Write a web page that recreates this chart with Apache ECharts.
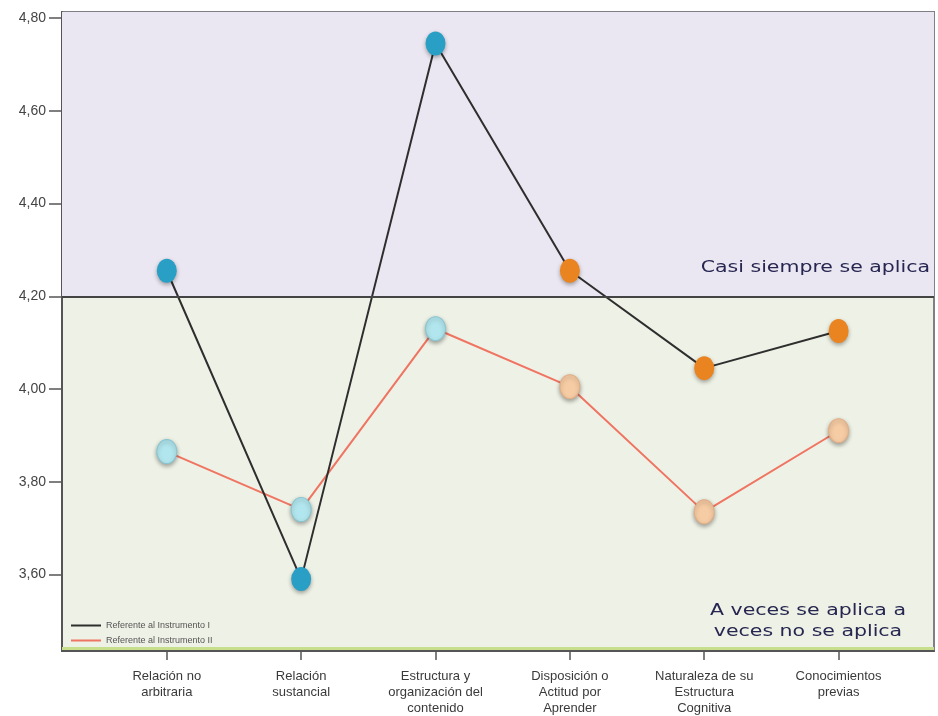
<!DOCTYPE html>
<html>
<head>
<meta charset="utf-8">
<script src="https://cdn.jsdelivr.net/npm/echarts@6/dist/echarts.min.js"></script>
<style>
  html, body { margin: 0; padding: 0; background: #ffffff; }
  #chart { width: 938px; height: 716px; }
</style>
</head>
<body>
<div id="chart"></div>
<script>
// Dimension names along the horizontal axis
const categories = [
  'Relación no\narbitraria',
  'Relación\nsustancial',
  'Estructura y\norganización del\ncontenido',
  'Disposición o\nActitud por\nAprender',
  'Naturaleza de su\nEstructura\nCognitiva',
  'Conocimientos\nprevias'
];

// Mean scores per dimension
const instrumentoI  = [4.255, 3.59, 4.745, 4.255, 4.045, 4.125];
const instrumentoII = [3.865, 3.74, 4.13, 4.005, 3.735, 3.91];

const seriesNames = ['Referente al Instrumento I', 'Referente al Instrumento II'];

// Y tick values and the threshold between the two bands
const yTicks = [3.6, 3.8, 4.0, 4.2, 4.4, 4.6, 4.8];
const threshold = 4.2;
const bandLabels = ['Casi siempre se aplica', 'A veces se aplica a\nveces no se aplica'];

// Marker palettes: first three dimensions cool, last three warm
const markerColorsI   = ['#2a9fc6', '#2a9fc6', '#2a9fc6', '#ea8420', '#ea8420', '#ea8420'];
const markerColorsII  = ['#b2e6ee', '#b2e6ee', '#b2e6ee', '#f6cca4', '#f6cca4', '#f6cca4'];
const markerBordersII = ['#86c6d2', '#86c6d2', '#86c6d2', '#e2ad84', '#e2ad84', '#e2ad84'];

const catIdx = categories.map((_, i) => i);
const toPoints = (arr, colors, borders) => arr.map((v, i) => ({
  value: [i, v],
  itemStyle: borders
    ? { color: colors[i], borderColor: borders[i], borderWidth: 1 }
    : { color: colors[i] }
}));

const chart = echarts.init(document.getElementById('chart'), null, { renderer: 'canvas' });

const fmt = v => v.toFixed(2).replace('.', ',');
const labelFont = '16px "DejaVu Sans", Verdana, sans-serif';

const markerShadow = {
  shadowBlur: 4,
  shadowColor: 'rgba(0,0,0,0.35)',
  shadowOffsetY: 2
};

const option = {
  backgroundColor: '#ffffff',
  animation: false,
  grid: {
    left: 62, right: 4, top: 12, bottom: 65,
    show: true,
    backgroundColor: '#eef1e5',
    borderColor: '#7f7f86',
    borderWidth: 2
  },
  xAxis: {
    type: 'value',
    min: -0.78,
    max: 5.71,
    splitLine: { show: false },
    axisLine: { show: true, onZero: false, lineStyle: { color: '#555', width: 2 } },
    axisTick: { show: true, length: 9, customValues: catIdx, lineStyle: { color: '#555', width: 1.5 } },
    axisLabel: {
      customValues: catIdx,
      formatter: v => categories[Math.round(v)] || '',
      color: '#3a3a3a',
      fontFamily: 'Liberation Sans, Arial, sans-serif',
      fontSize: 13,
      lineHeight: 16,
      margin: 17
    }
  },
  yAxis: {
    type: 'value',
    min: 3.435,
    max: 4.813,
    splitLine: { show: false },
    axisLine: { show: true, onZero: false, lineStyle: { color: '#555', width: 2 } },
    axisTick: { show: true, length: 13, customValues: yTicks, lineStyle: { color: '#555', width: 1.5 } },
    axisLabel: {
      customValues: yTicks,
      formatter: v => fmt(v),
      color: '#444',
      fontFamily: 'Liberation Sans, Arial, sans-serif',
      fontSize: 14,
      margin: 16
    }
  },
  legend: {
    data: seriesNames,
    orient: 'vertical',
    left: 66,
    top: 616,
    itemWidth: 30,
    itemHeight: 2,
    itemGap: 6,
    icon: 'rect',
    textStyle: { color: '#555', fontSize: 9, fontFamily: 'Liberation Sans, Arial, sans-serif' }
  },
  series: [
    {
      name: seriesNames[0],
      type: 'line',
      z: 3,
      data: toPoints(instrumentoI, markerColorsI),
      symbol: 'circle',
      symbolSize: [20, 24],
      lineStyle: { color: '#2e2e2e', width: 2 },
      itemStyle: Object.assign({ color: '#2e2e2e' }, markerShadow)
    },
    {
      name: seriesNames[1],
      type: 'line',
      z: 2,
      data: toPoints(instrumentoII, markerColorsII, markerBordersII),
      symbol: 'circle',
      symbolSize: [20, 24],
      lineStyle: { color: '#f07462', width: 2 },
      itemStyle: Object.assign({ color: '#f07462' }, markerShadow),
      markArea: {
        silent: true,
        itemStyle: { color: '#ebe7f2' },
        data: [[{ yAxis: threshold }, { yAxis: 4.813 }]]
      },
      markLine: {
        silent: true,
        symbol: 'none',
        label: { show: false },
        data: [
          { yAxis: threshold, lineStyle: { color: '#444', width: 2, type: 'solid' } },
          { yAxis: 3.44, lineStyle: { color: '#c7de8c', width: 3, type: 'solid' } }
        ]
      }
    }
  ],
  graphic: [
    {
      type: 'text',
      z: 100,
      x: 930,
      y: 260,
      scaleX: 1.28,
      style: {
        text: bandLabels[0],
        x: 0, y: 0,
        align: 'right',
        fill: '#262650',
        font: labelFont
      }
    },
    {
      type: 'text',
      z: 100,
      x: 808,
      y: 600,
      scaleX: 1.28,
      style: {
        text: bandLabels[1],
        x: 0, y: 0,
        align: 'center',
        lineHeight: 21,
        fill: '#262650',
        font: labelFont
      }
    }
  ]
};

chart.setOption(option);
</script>
</body>
</html>
